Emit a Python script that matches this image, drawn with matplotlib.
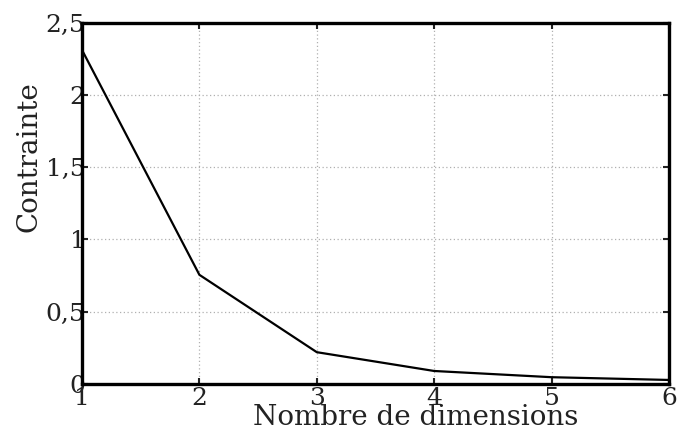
import matplotlib
matplotlib.use("Agg")
import matplotlib.pyplot as plt

# data
dims = [1, 2, 3, 4, 5, 6]
stress = [2.31, 0.755, 0.22, 0.09, 0.047, 0.028]
yticks = [0, 0.5, 1, 1.5, 2, 2.5]
ytick_labels = ["0", "0,5", "1", "1,5", "2", "2,5"]

plt.rcParams['font.family'] = ['DejaVu Serif']

fig = plt.figure(figsize=(6.8, 4.37), dpi=100)
ax = fig.add_axes([82 / 680, 1 - 384 / 437, (669 - 82) / 680, (384 - 22.5) / 437])

ax.plot(dims, stress, color='black', linewidth=1.6)

ax.set_xlim(1, 6)
ax.set_ylim(0, 2.5)
ax.set_xticks(dims)
ax.set_yticks(yticks)
ax.set_yticklabels(ytick_labels)

ax.grid(True, color='#b0b0b0', linestyle=(0, (1, 2)), linewidth=0.9)
for sp in ax.spines.values():
    sp.set_linewidth(2.4)
ax.tick_params(axis='both', direction='in', length=4.5, width=1.5,
               labelsize=18, colors='#222222', top=True, right=True)
ax.tick_params(axis='y', pad=-2.5)
ax.tick_params(axis='x', pad=2)

ax.set_xlabel("Nombre de dimensions", fontsize=20, color='#222222')
ax.xaxis.set_label_coords(0.569, -0.113)
ax.xaxis.label.set_va('baseline')

ax.set_ylabel("Contrainte", fontsize=20, color='#222222')
ax.yaxis.set_label_coords(-0.09, 0.628)
ax.yaxis.label.set_va('center')

fig.savefig("out.png", dpi=100)
